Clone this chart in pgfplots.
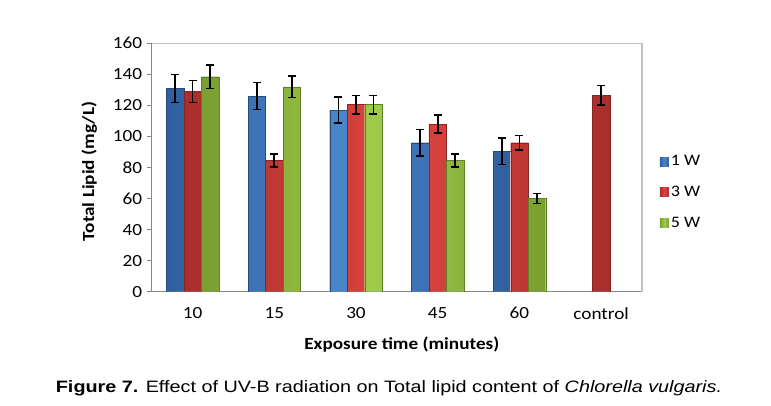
\documentclass[border=0pt]{standalone}
\usepackage{fontspec}
\setmainfont{Carlito}[FakeStretch=1.13]
\newfontfamily\capfont{Liberation Sans}[FakeStretch=1.2]
\usepackage{pgfplots}
\pgfplotsset{compat=1.18}
\definecolor{blueD}{HTML}{2F5F9E}
\definecolor{blueL}{HTML}{4A86CC}
\definecolor{redD}{HTML}{A92E2B}
\definecolor{redL}{HTML}{DE4540}
\definecolor{greenD}{HTML}{789F30}
\definecolor{greenL}{HTML}{9FCB4B}
\definecolor{axgray}{HTML}{868686}
\definecolor{frgray}{HTML}{C0C0C0}
\begin{document}
\begin{tikzpicture}
\path[use as bounding box] (0pt,0pt) rectangle (771pt,-405pt);
\begin{axis}[
  at={(151.7pt,-291.7pt)}, anchor=south west,
  scale only axis, width=490.3pt, height=248.4pt,
  ybar=0pt, bar width=17.5pt,
  xmin=-0.5, xmax=5.5, ymin=0, ymax=160,
  xtick={0,1,2,3,4,5},
  xticklabels={10,15,30,45,60,control},
  ytick={0,20,...,160},
  axis x line*=bottom, axis y line*=left,
  axis line style={axgray, line width=1.2pt},
  x axis line style={-}, y axis line style={-},
  xtick style={draw=none},
  ytick style={axgray, line width=1.2pt},
  tick align=outside, major tick length=5pt,
  /pgf/number format/assume math mode=true,
  tick label style={font=\fontsize{17}{20}\selectfont, black},
  yticklabel style={xshift=-1pt},
  xticklabel style={yshift=-7pt},
  xlabel={\textbf{Exposure time (minutes)}},
  ylabel={\textbf{Total Lipid (mg/L)}},
  label style={font=\fontsize{17}{20}\selectfont},
  xlabel style={yshift=-11pt, xshift=5pt},
  ylabel style={yshift=9pt, xshift=-4pt},
  error bars/y dir=both, error bars/y explicit,
  error bars/error bar style={black, line width=1.6pt},
  error bars/error mark options={rotate=90, black, mark size=4pt, line width=1.6pt},
  legend style={at={(1.03,0.40)}, anchor=west, draw=none, fill=none,
    font=\fontsize{16}{19}\selectfont, row sep=15pt,
    legend cell align=left},
  legend image code/.code={\draw[#1, draw=none] (0pt,-4.5pt) rectangle (9pt,4.5pt);},
  after end axis/.code={\draw[frgray, line width=1.5pt] (rel axis cs:0,1) -- (rel axis cs:1,1) -- (rel axis cs:1,0);},
]
\addplot[draw=blueD!80!black, line width=0.3pt, left color=blueD, right color=blueD, middle color=blueL]
  coordinates {(0,131) +- (0,9) (1,126) +- (0,8.7) (2,117) +- (0,8.5) (3,96) +- (0,8.5) (4,90.5) +- (0,8.5)};
\addplot[draw=redD!80!black, line width=0.3pt, left color=redD, right color=redD, middle color=redL]
  coordinates {(0,129) +- (0,7) (1,84.5) +- (0,4.2) (2,120.5) +- (0,6) (3,108) +- (0,5.7) (4,96) +- (0,4.7) (5,126.5) +- (0,6.2)};
\addplot[draw=greenD!80!black, line width=0.3pt, left color=greenD, right color=greenD, middle color=greenL]
  coordinates {(0,138.5) +- (0,7.5) (1,132) +- (0,7) (2,120.5) +- (0,6) (3,84.5) +- (0,4.3) (4,60) +- (0,3.3)};
\legend{1 W,3 W,5 W}
\end{axis}
\node[font=\capfont\fontsize{16.5}{19}\selectfont, anchor=base] at (389pt,-392.5pt)
  {\textbf{Figure 7.} Effect of UV-B radiation on Total lipid content of \textit{Chlorella vulgaris.}};
\end{tikzpicture}
\end{document}
